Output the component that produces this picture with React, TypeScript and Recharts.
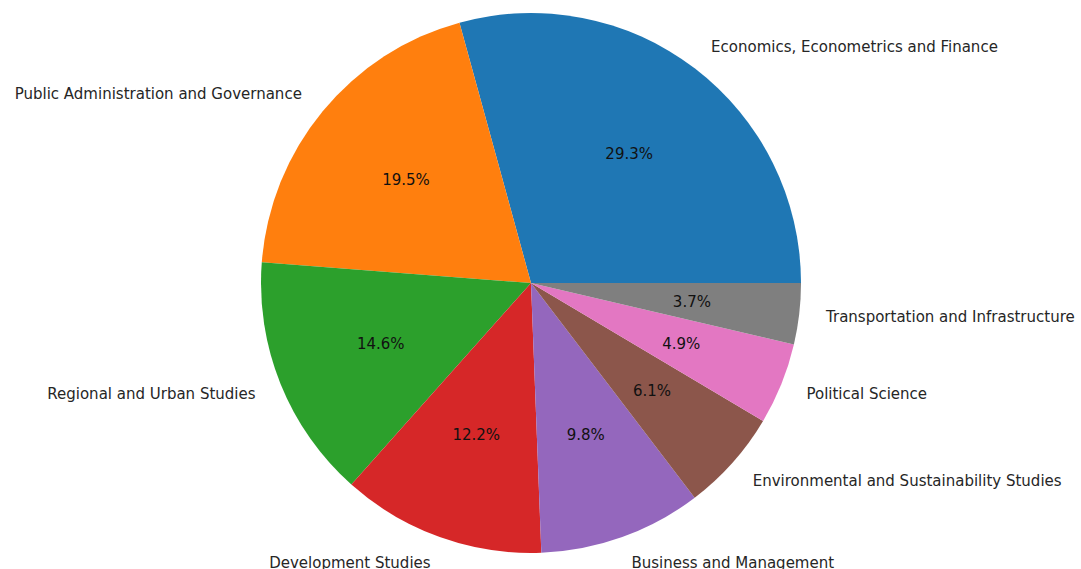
import React from 'react'
import { PieChart, Pie, Cell } from 'recharts'

const fields = [
  'Economics, Econometrics and Finance',
  'Public Administration and Governance',
  'Regional and Urban Studies',
  'Development Studies',
  'Business and Management',
  'Environmental and Sustainability Studies',
  'Political Science',
  'Transportation and Infrastructure',
]

const counts = [24, 16, 12, 10, 8, 5, 4, 3]

const colors = ['#1f77b4', '#ff7f0e', '#2ca02c', '#d62728', '#9467bd', '#8c564b', '#e377c2', '#7f7f7f']

const data = fields.map((name, i) => ({ name, value: counts[i] }))

const RADIAN = Math.PI / 180
const FONT = '"DejaVu Sans", sans-serif'

const renderLabel = (props: any) => {
  const { cx, cy, midAngle, outerRadius, percent, name } = props
  const cos = Math.cos(-midAngle * RADIAN)
  const sin = Math.sin(-midAngle * RADIAN)
  const lx = cx + outerRadius * 1.1 * cos
  const ly = cy + outerRadius * 1.1 * sin
  const px = cx + outerRadius * 0.6 * cos
  const py = cy + outerRadius * 0.6 * sin
  return (
    <g>
      <text
        x={lx}
        y={ly}
        textAnchor={cos > 0 ? 'start' : 'end'}
        dominantBaseline="central"
        fill="#262626"
        fontSize={15}
        fontFamily={FONT}
      >
        {name}
      </text>
      <text
        x={px}
        y={py}
        textAnchor="middle"
        dominantBaseline="central"
        fill="#111"
        fontSize={15}
        fontFamily={FONT}
      >
        {(percent * 100).toFixed(1)}%
      </text>
    </g>
  )
}

const App: React.FC = () => {
  return (
    <div style={{ position: 'absolute', left: 0, top: 0, background: '#fff' }}>
      <PieChart width={1081} height={569} margin={{ top: 0, right: 0, bottom: 0, left: 0 }}>
        <Pie
          data={data}
          dataKey="value"
          nameKey="name"
          cx={531}
          cy={283}
          outerRadius={270}
          startAngle={0}
          endAngle={360}
          stroke="none"
          label={renderLabel}
          labelLine={false}
          isAnimationActive={false}
        >
          {data.map((d, i) => (
            <Cell key={d.name} fill={colors[i]} />
          ))}
        </Pie>
      </PieChart>
    </div>
  )
}

export default App
